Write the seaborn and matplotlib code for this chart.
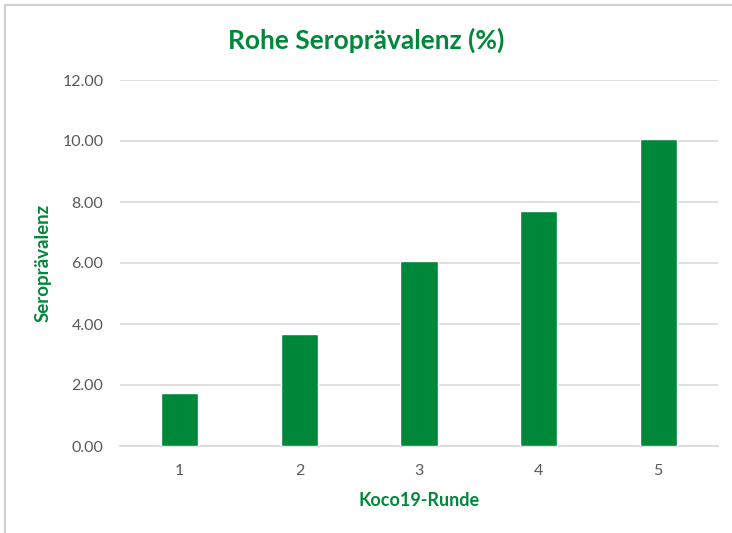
import matplotlib
matplotlib.use("Agg")
import matplotlib.pyplot as plt
import seaborn as sns
import pandas as pd
from matplotlib.patches import Rectangle

# Chart data
runden = ["1", "2", "3", "4", "5"]
praevalenz = [1.73, 3.68, 6.05, 7.70, 10.06]
y_ticks = [0, 2, 4, 6, 8, 10, 12]

green = "#00883A"
grey_text = "#595959"
grid_col = "#D9D9D9"

sns.set_theme(style="white")
plt.rcParams['font.family'] = ['Lato', 'DejaVu Sans']

df = pd.DataFrame({"Runde": runden, "Wert": praevalenz})

fig = plt.figure(figsize=(7.32, 5.33), dpi=100)
ax = fig.add_axes([120 / 732, 1 - 446 / 533, 598 / 732, 366 / 533])

sns.barplot(data=df, x="Runde", y="Wert", color=green, width=0.31,
            saturation=1, ax=ax, zorder=3)

ax.set_ylim(0, 12)
ax.set_yticks(y_ticks)
ax.set_yticklabels([f"{t:.2f}" for t in y_ticks])
ax.yaxis.grid(True, color=grid_col, linewidth=1.2, zorder=0)
ax.set_axisbelow(True)

for s in ["top", "right", "left"]:
    ax.spines[s].set_visible(False)
ax.spines["bottom"].set_color(grid_col)
ax.spines["bottom"].set_linewidth(1.2)
ax.tick_params(axis="both", length=0, colors=grey_text, labelsize=11.5)
ax.tick_params(axis="y", pad=12)
ax.tick_params(axis="x", pad=13)

ax.set_xlabel("Koco19-Runde", color=green, fontsize=13, fontweight="bold", labelpad=10)
ax.set_ylabel("Seroprävalenz", color=green, fontsize=13.5, fontweight="bold", labelpad=8)

fig.text(0.5, 1 - 40 / 533, "Rohe Seroprävalenz (%)", color=green, fontsize=19,
         fontweight="bold", ha="center", va="center")

# light chart-area border
fig.patches.append(Rectangle((5 / 732, -0.1), 1.2, 1 - 5 / 533 + 0.1,
                             transform=fig.transFigure, fill=False,
                             edgecolor="#D0D0D0", linewidth=1.5))

fig.savefig("out.png", dpi=100)
